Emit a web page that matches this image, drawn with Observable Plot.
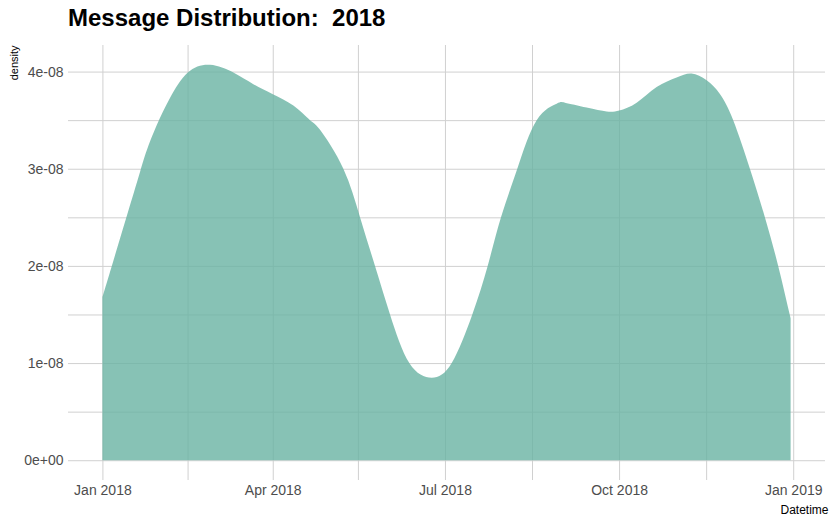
<!DOCTYPE html>
<html>
<head>
<meta charset="utf-8">
<script src="https://cdn.jsdelivr.net/npm/d3@7"></script>
<script src="https://cdn.jsdelivr.net/npm/@observablehq/plot@0.6"></script>
<style>
  html, body { margin: 0; padding: 0; background: #fff; }
  #wrap { width: 839px; height: 529px; position: relative; font-family: "Liberation Sans", Arial, sans-serif; }
  #title { box-sizing: border-box; height: 40px; padding-top: 6px; padding-left: 68px; font-size: 24px; line-height: 24px; font-weight: bold; color: #000; white-space: pre; }
</style>
</head>
<body>
<div id="wrap">
  <div id="title">Message Distribution:  2018</div>
  <div id="chart"></div>
</div>
<script>
// Density curve samples.
// Datetime given as days elapsed since 2018-01-01 00:00 UTC.
const dayOfYear = [
  0, 4.97, 12.36, 19.91, 23.45, 28.73, 35.76, 45.11, 56.89,
  69.19, 79.76, 89.80, 100.89, 109.71, 114.99, 127.30, 136.12,
  144.04, 151.97, 162.16, 173.99, 184.56, 195.44, 203.57, 210.60,
  219.21, 229.45, 240.02, 244.40, 255.86, 266.43, 273.08,
  282.27, 292.84, 303.40, 311.32, 319.25, 326.27, 333.30, 342.12,
  350.04, 357.07, 363.62
];
const density = [
  1.68e-8, 2.00e-8, 2.48e-8, 2.97e-8, 3.19e-8, 3.45e-8, 3.73e-8, 3.99e-8, 4.07e-8,
  3.99e-8, 3.87e-8, 3.77e-8, 3.65e-8, 3.50e-8, 3.40e-8, 3.00e-8, 2.50e-8,
  2.00e-8, 1.50e-8, 1.00e-8, 0.85e-8, 1.00e-8, 1.50e-8, 2.00e-8, 2.50e-8,
  3.00e-8, 3.50e-8, 3.67e-8, 3.68e-8, 3.63e-8, 3.59e-8, 3.60e-8,
  3.68e-8, 3.84e-8, 3.94e-8, 3.98e-8, 3.91e-8, 3.77e-8, 3.50e-8, 3.00e-8,
  2.50e-8, 2.00e-8, 1.46e-8
];
const xTickDates = ["2018-01-01","2018-04-01","2018-07-01","2018-10-01","2019-01-01"];
const xTickLabels = ["Jan 2018","Apr 2018","Jul 2018","Oct 2018","Jan 2019"];
const xMinorDates = ["2018-02-15","2018-05-16","2018-08-16","2018-11-16"];
const yTicks = [0, 1e-8, 2e-8, 3e-8, 4e-8];
const yTickLabels = ["0e+00","1e-08","2e-08","3e-08","4e-08"];
const yMinor = [0.5e-8, 1.5e-8, 2.5e-8, 3.5e-8];

const t0 = Date.UTC(2018, 0, 1);
const data = dayOfYear.map((d, i) => ({date: new Date(t0 + d * 864e5), density: density[i]}));
const parse = s => new Date(s + "T00:00:00Z");
const xMajor = xTickDates.map(parse);
const xMinor = xMinorDates.map(parse);

const xmin = d3.min(data, d => d.date), xmax = d3.max(data, d => d.date);
const xr = xmax - xmin;
const ymax = d3.max(density);
const grid = "#d0d0d0";

const plot = Plot.plot({
  width: 839,
  height: 489,
  marginTop: 5,
  marginBottom: 49,
  marginLeft: 68,
  marginRight: 14,
  style: {fontFamily: "'Liberation Sans', Arial, sans-serif", background: "#fff"},
  x: {type: "utc", domain: [new Date(+xmin - 0.05 * xr), new Date(+xmax + 0.05 * xr)]},
  y: {domain: [-0.05 * ymax, ymax * 1.05]},
  marks: [
    Plot.ruleY(yMinor, {stroke: grid, strokeWidth: 1}),
    Plot.ruleY(yTicks, {stroke: grid, strokeWidth: 1}),
    Plot.ruleX(xMinor, {stroke: grid, strokeWidth: 1}),
    Plot.ruleX(xMajor, {stroke: grid, strokeWidth: 1}),
    Plot.areaY(data, {x: "date", y: "density", fill: "#69b3a2", fillOpacity: 0.8, curve: "natural"}),
    Plot.axisY({ticks: yTicks, tickFormat: (d, i) => yTickLabels[i], tickSize: 0, tickPadding: 5, fontSize: 14, fill: "#4d4d4d", label: null}),
    Plot.axisX({ticks: xMajor, tickFormat: (d, i) => xTickLabels[i], tickSize: 0, tickPadding: 5, fontSize: 14, fill: "#4d4d4d", label: null}),
    Plot.text(["Datetime"], {frameAnchor: "bottom-right", text: d => d, textAnchor: "end", lineAnchor: "middle", dx: 3, dy: 30, fontSize: 12, fill: "#000"}),
    Plot.text(["density"], {frameAnchor: "top-left", text: d => d, rotate: -90, textAnchor: "end", lineAnchor: "middle", dx: -54, dy: 0, fontSize: 11, fill: "#000"})
  ]
});
document.getElementById("chart").appendChild(plot);
</script>
</body>
</html>
